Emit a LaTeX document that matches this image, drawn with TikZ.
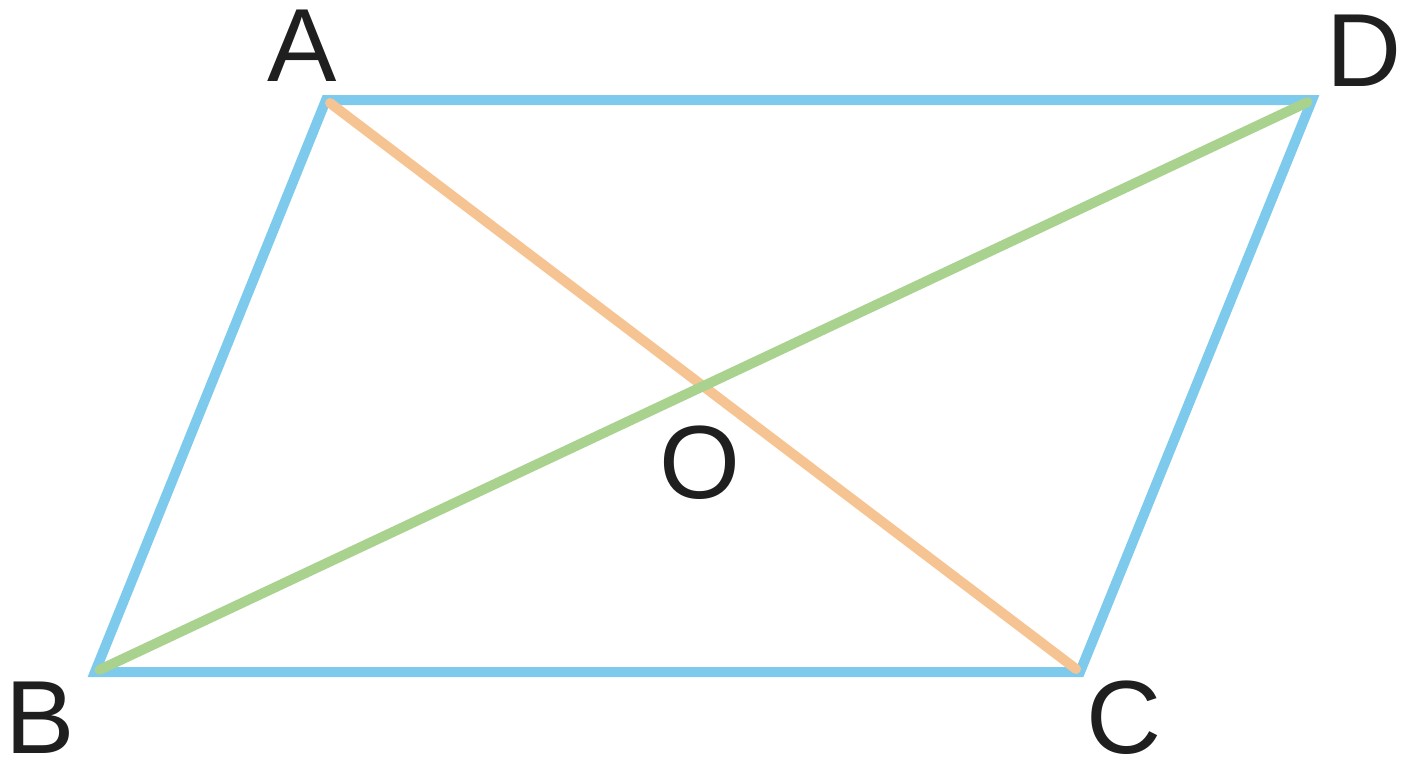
\documentclass[tikz,border=0pt]{standalone}
\usepackage{fontspec}
\setmainfont{Liberation Sans}
\definecolor{sideblue}{RGB}{125,202,236}
\definecolor{diagorange}{RGB}{246,196,146}
\definecolor{diaggreen}{RGB}{168,210,142}
\begin{document}
\begin{tikzpicture}
[x=0.5pt,y=0.5pt,
side/.style={draw=sideblue,line width=5pt},
diag/.style={line width=5pt,line cap=round,shorten <=2.5pt,shorten >=2.5pt},
vlabel/.style={inner sep=0pt,text=black!88,font=\fontsize{52}{58}\selectfont}]
\useasboundingbox (0,0) rectangle (1408,768);
% vertices
\coordinate (A) at (326,668);
\coordinate (D) at (1312,668);
\coordinate (B) at (95,96);
\coordinate (C) at (1080,96);
% sides
\draw[side] (A) -- (D) -- (C) -- (B) -- cycle;
% diagonals
\draw[diag,diagorange] (A) -- (C);
\draw[diag,diaggreen] (B) -- (D);
% labels
\node[vlabel] (labA) at (302,722) {A};
\node[vlabel] (labD) at (1364,717) {D};
\node[vlabel] (labB) at (40,50) {B};
\node[vlabel] (labC) at (1124,50) {C};
\node[vlabel] (labO) at (700,305) {O};
\end{tikzpicture}
\end{document}
